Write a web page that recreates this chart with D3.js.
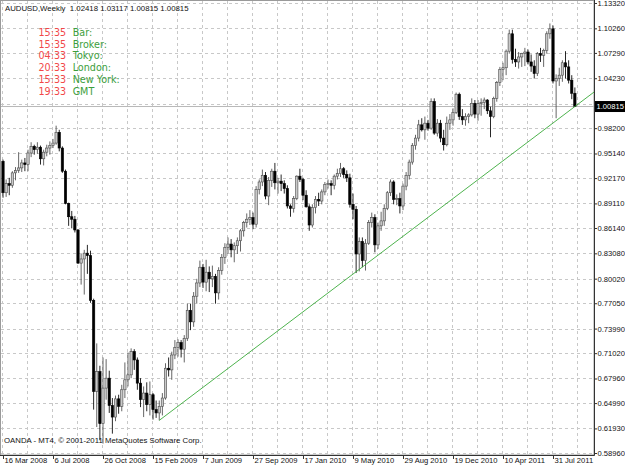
<!DOCTYPE html>
<html><head><meta charset="utf-8">
<script src="https://cdn.jsdelivr.net/npm/d3@7"></script>
<style>body{margin:0;background:#fff}svg{display:block}</style>
</head><body>
<svg id="c" width="625" height="469"></svg>
<script>
const symbolTitle = "AUDUSD,Weekly  1.02418 1.03117 1.00815 1.00815";
const firstWeek = "2008-03-16";

const opens = [
.9420,.9040,.9150,.9130,.9280,.9310,.9340,.9400,.9380,.9520,
.9600,.9560,.9590,.9450,.9530,.9580,.9610,.9640,.9770,.9580,
.9300,.8910,.8750,.8720,.8590,.8190,.8240,.8310,.8280,.7740,
.6640,.6880,.6250,.6680,.6800,.6470,.6330,.6550,.6460,.6660,
.6780,.6840,.7120,.7020,.6740,.6540,.6620,.6480,.6600,.6420,
.6380,.6460,.6560,.6920,.6900,.7080,.7170,.7230,.7150,.7280,
.7620,.7480,.7790,.7950,.8140,.7960,.8080,.8000,.8030,.7830,
.8100,.8260,.8380,.8420,.8350,.8400,.8460,.8580,.8680,.8720,
.8740,.8660,.9080,.9170,.9250,.9000,.9190,.9300,.9160,.9180,
.9150,.9090,.8880,.8850,.8970,.9240,.9200,.9010,.8870,.8650,
.8860,.8960,.8940,.9050,.9140,.9150,.9130,.9240,.9270,.9330,
.9260,.9220,.8900,.8840,.8300,.8450,.8220,.8430,.8680,.8740,
.8410,.8640,.8700,.8850,.9040,.9170,.8960,.8970,.8880,.9120,
.9250,.9410,.9610,.9700,.9860,.9800,.9880,.9820,1.0140,.9760,
.9880,.9700,.9620,.9880,.9920,1.0010,1.0230,.9960,.9920,.9960,
.9980,1.0120,.9990,1.0120,1.0130,1.0160,1.0030,.9960,1.0180,1.0370,
1.0530,1.0550,1.0750,1.0960,1.0650,1.0620,1.0680,1.0720,1.0740,1.0620,
1.0570,1.0480,1.0720,1.0700,1.0760,1.0960,1.1020,1.0390,1.0420,1.0460,
1.0610,1.0560,1.0400,1.02418];

const highs = [
.9440,.9200,.9220,.9300,.9350,.9530,.9440,.9460,.9560,.9650,
.9620,.9650,.9610,.9560,.9620,.9660,.9690,.9850,.9800,.9600,
.9320,.8920,.8820,.8760,.8600,.8300,.8350,.8410,.8340,.7760,
.7220,.6950,.7050,.7030,.6890,.6560,.6590,.6600,.6720,.6990,
.7110,.7160,.7150,.7050,.6800,.6700,.6750,.6760,.6620,.6530,
.6530,.6620,.6980,.7050,.7120,.7260,.7270,.7260,.7320,.7700,
.7700,.7840,.8000,.8220,.8180,.8230,.8150,.8160,.8060,.8140,
.8300,.8430,.8500,.8480,.8440,.8500,.8600,.8700,.8790,.8830,
.8800,.9120,.9200,.9320,.9290,.9230,.9330,.9400,.9220,.9260,
.9190,.9130,.8900,.9000,.9250,.9330,.9220,.9070,.8900,.8900,
.9000,.9040,.9080,.9170,.9200,.9190,.9260,.9330,.9400,.9350,
.9310,.9270,.9030,.8880,.8500,.8500,.8480,.8710,.8800,.8780,
.8680,.8810,.8900,.9060,.9200,.9190,.9020,.9040,.9150,.9290,
.9440,.9640,.9740,.9920,.9940,.9960,.9920,1.0180,1.0180,.9930,
.9920,.9800,.9960,.9990,1.0060,1.0250,1.0250,1.0050,1.0000,1.0000,
1.0180,1.0160,1.0160,1.0180,1.0190,1.0170,1.0080,1.0200,1.0390,1.0560,
1.0610,1.0770,1.1010,1.1010,1.0780,1.0740,1.0730,1.0790,1.0770,1.0710,
1.0640,1.0740,1.0790,1.0780,1.0990,1.1085,1.1060,1.0470,1.0550,1.0640,
1.0750,1.0640,1.0460,1.03117];

const lows = [
.8980,.8990,.9010,.9100,.9190,.9280,.9290,.9300,.9300,.9470,
.9500,.9510,.9380,.9370,.9480,.9500,.9580,.9620,.9540,.9280,
.8900,.8640,.8610,.8560,.8180,.7930,.7810,.8060,.7710,.6420,
.6210,.6050,.6010,.6540,.6380,.6130,.6280,.6370,.6400,.6560,
.6700,.6800,.6900,.6660,.6450,.6330,.6400,.6350,.6300,.6320,
.6290,.6350,.6540,.6820,.6780,.7030,.7060,.7050,.6990,.7250,
.7380,.7420,.7700,.7900,.7890,.7850,.7840,.7900,.7700,.7750,
.8050,.8180,.8300,.8260,.8200,.8300,.8330,.8510,.8620,.8650,
.8600,.8620,.9020,.9120,.8960,.8890,.9110,.9080,.9030,.9060,
.9030,.8850,.8750,.8800,.8950,.9170,.8950,.8860,.8580,.8620,
.8790,.8880,.8900,.9010,.9090,.9010,.9080,.9200,.9230,.9220,
.9170,.8860,.8720,.8070,.8090,.8140,.8100,.8410,.8620,.8320,
.8360,.8580,.8640,.8830,.9000,.8900,.8890,.8790,.8830,.9070,
.9200,.9380,.9560,.9660,.9780,.9680,.9790,.9800,.9740,.9720,
.9650,.9550,.9600,.9800,.9850,.9990,.9920,.9860,.9850,.9880,
.9960,.9940,.9910,.9970,1.0050,.9990,.9710,.9940,1.0140,1.0330,
1.0400,1.0460,1.0720,1.0600,1.0560,1.0540,1.0560,1.0570,1.0590,1.0500,
1.0420,1.0450,1.0620,1.0560,1.0720,1.0900,1.0360,.9940,1.0330,1.0380,
1.0420,1.0360,1.0170,1.00815];

const closes = [
.9040,.9150,.9130,.9280,.9310,.9340,.9400,.9380,.9520,.9600,
.9560,.9590,.9450,.9530,.9580,.9610,.9640,.9770,.9580,.9300,
.8910,.8750,.8720,.8590,.8190,.8240,.8310,.8280,.7740,.6640,
.6880,.6250,.6680,.6800,.6470,.6330,.6550,.6460,.6660,.6780,
.6840,.7120,.7020,.6740,.6540,.6620,.6480,.6600,.6420,.6380,
.6460,.6560,.6920,.6900,.7080,.7170,.7230,.7150,.7280,.7620,
.7480,.7790,.7950,.8140,.7960,.8080,.8000,.8030,.7830,.8100,
.8260,.8380,.8420,.8350,.8400,.8460,.8580,.8680,.8720,.8740,
.8660,.9080,.9170,.9250,.9000,.9190,.9300,.9160,.9180,.9150,
.9090,.8880,.8850,.8970,.9240,.9200,.9010,.8870,.8650,.8860,
.8960,.8940,.9050,.9140,.9150,.9130,.9240,.9270,.9330,.9260,
.9220,.8900,.8840,.8300,.8450,.8220,.8430,.8680,.8740,.8410,
.8640,.8700,.8850,.9040,.9170,.8960,.8970,.8880,.9120,.9250,
.9410,.9610,.9700,.9860,.9800,.9880,.9820,1.0140,.9760,.9880,
.9700,.9620,.9880,.9920,1.0010,1.0230,.9960,.9920,.9960,.9980,
1.0120,.9990,1.0120,1.0130,1.0160,1.0030,.9960,1.0180,1.0370,1.0530,
1.0550,1.0750,1.0960,1.0650,1.0620,1.0680,1.0720,1.0740,1.0620,1.0570,
1.0480,1.0720,1.0700,1.0760,1.0960,1.1020,1.0390,1.0420,1.0460,1.0610,
1.0560,1.0400,1.02418,1.00815];

const priceTicks = [1.13320,1.10260,1.07290,1.04230,1.01170,0.98200,0.95140,0.92170,0.89110,
  0.86140,0.83080,0.80020,0.77050,0.73990,0.71020,0.67960,0.64990,0.61930,0.58960];
const dateTicks = ["2008-03-16","2008-07-06","2008-10-26","2009-02-15","2009-06-07","2009-09-27",
  "2010-01-17","2010-05-09","2010-08-29","2010-12-19","2011-04-10","2011-07-31"];
const clockTimes = ["15:35","15:35","04:33","20:33","15:33","19:33"];
const clockNames = ["Bar:","Broker:","Tokyo:","London:","New York:","GMT"];
const trendWeeks = [50, 183];
const trendPrices = [0.6290, 1.00815];
const currentPrice = 1.00815;
const copyright = "OANDA - MT4, \u00A9 2001-2011 MetaQuotes Software Corp.";

const plotR = 594, plotB = 455;
const svg = d3.select("#c");
const parse = d3.utcParse("%Y-%m-%d");
const t0 = parse(firstWeek);
const n = opens.length;
const dates = d3.range(n).map(i => d3.utcWeek.offset(t0, i));
const x = d3.scaleUtc().domain([t0, dates[n-1]]).range([3, 3 + (n-1)*3.125]);
const y = d3.scaleLinear().domain(d3.extent(priceTicks)).range([453, 3]);
const axisFont = "'Liberation Sans', Arial, sans-serif";

// frame
svg.append("rect").attr("x",0.5).attr("y",0.5).attr("width",plotR-0.5).attr("height",plotB-0.5)
  .attr("fill","none").attr("stroke","#9a9a9a").attr("stroke-width",1);

// grid
const gridG = svg.append("g").attr("stroke","#c8c8c8").attr("stroke-width",1).attr("stroke-dasharray","3,3");
const gridWeeks = d3.range(0, n + 2, 8).map(i => d3.utcWeek.offset(t0, i)).filter(d => x(d) < plotR);
gridG.selectAll("line.v").data(gridWeeks).join("line")
  .attr("x1", d => Math.round(x(d)) - 0.5).attr("x2", d => Math.round(x(d)) - 0.5)
  .attr("y1", 1).attr("y2", plotB);
gridG.selectAll("line.h").data(priceTicks).join("line")
  .attr("x1", 1).attr("x2", plotR)
  .attr("y1", d => Math.round(y(d)) + 0.5).attr("y2", d => Math.round(y(d)) + 0.5);

// current price line
svg.append("line").attr("x1",1).attr("x2",plotR)
  .attr("y1", y(currentPrice)).attr("y2", y(currentPrice))
  .attr("stroke","#b8b8b8").attr("stroke-width",1);

// candles
const bars = d3.range(n).map(i => ({d: dates[i], o: opens[i], h: highs[i], l: lows[i], c: closes[i]}));
const bw = 2.34;
const cg = svg.append("g");
cg.selectAll("line.wick").data(bars).join("line")
  .attr("x1", b => x(b.d)).attr("x2", b => x(b.d))
  .attr("y1", b => y(b.h)).attr("y2", b => y(b.l))
  .attr("stroke", b => b.c >= b.o ? "#4a4a4a" : "#000")
  .attr("stroke-width", 0.85);
cg.selectAll("rect.body").data(bars).join("rect")
  .attr("x", b => x(b.d) - bw/2)
  .attr("y", b => y(Math.max(b.o, b.c)))
  .attr("width", bw)
  .attr("height", b => Math.max(0.8, Math.abs(y(b.o) - y(b.c))))
  .attr("fill", b => b.c >= b.o ? "#c9c9c9" : "#000")
  .attr("stroke", b => b.c >= b.o ? "#4a4a4a" : "#000")
  .attr("stroke-width", 0.6);

// trendline, extended to the right edge
const tx1 = x(d3.utcWeek.offset(t0, trendWeeks[0])), ty1 = y(trendPrices[0]);
const tx2 = x(d3.utcWeek.offset(t0, trendWeeks[1])), ty2 = y(trendPrices[1]);
const slope = (ty2 - ty1) / (tx2 - tx1);
svg.append("line").attr("x1", tx1).attr("y1", ty1)
  .attr("x2", plotR).attr("y2", ty1 + slope * (plotR - tx1))
  .attr("stroke", "#3aaa3a").attr("stroke-width", 0.9);

// axes
const cy = y(currentPrice);
const yAxis = d3.axisRight(y).tickValues(priceTicks).tickSize(3).tickPadding(0.5)
  .tickFormat(d3.format(".5f"));
const ya = svg.append("g").attr("transform", `translate(${plotR},0)`).call(yAxis);
ya.select(".domain").remove();
ya.selectAll("line").attr("stroke","#333");
ya.selectAll("text").attr("font-family", axisFont).attr("font-size", 7.6).attr("fill","#111");
// the current-price box covers the tick label that sits under it
ya.selectAll(".tick").filter(d => Math.abs(y(d) - cy) < 8).select("text").remove();

const xAxis = d3.axisBottom(x).tickValues(dateTicks.map(parse)).tickSize(4)
  .tickFormat(d3.utcFormat("%-d %b %Y"));
const xa = svg.append("g").attr("transform", `translate(0,${plotB})`).call(xAxis);
xa.select(".domain").remove();
xa.selectAll("line").attr("stroke","#333");
xa.selectAll("text").attr("font-family", axisFont).attr("font-size", 7.6).attr("fill","#111")
  .attr("text-anchor","start").attr("x", 1).attr("dy", "0.55em").attr("y", 4);

svg.append("line").attr("x1", plotR + 0.5).attr("x2", plotR + 0.5).attr("y1", 0).attr("y2", plotB + 0.5)
  .attr("stroke","#333").attr("stroke-width",1);
svg.append("line").attr("x1", 0).attr("x2", plotR + 0.5).attr("y1", plotB + 0.5).attr("y2", plotB + 0.5)
  .attr("stroke","#333").attr("stroke-width",1);

// current price label
svg.append("rect").attr("x", plotR + 1).attr("y", cy - 5.5).attr("width", 625 - plotR - 1).attr("height", 11)
  .attr("fill", "#000");
svg.append("text").attr("x", plotR + 2.5).attr("y", cy).attr("dy", "0.35em")
  .attr("font-family", axisFont).attr("font-size", 7.6).attr("fill", "#fff")
  .text(d3.format(".5f")(currentPrice));

// title
svg.append("text").attr("x", 5).attr("y", 10.5).attr("font-family", axisFont).attr("font-size", 7.8)
  .attr("fill", "#111").style("white-space","pre").text(symbolTitle);

// clocks
const clockFont = "'DejaVu Sans', Verdana, sans-serif";
const cl = svg.append("g").attr("font-family", clockFont).attr("font-size", 9.6);
cl.selectAll("text.t").data(clockTimes).join("text")
  .attr("x", 38.5).attr("y", (d, i) => 36 + i * 11.7).attr("fill", "#f24848").text(d => d);
cl.selectAll("text.n").data(clockNames).join("text")
  .attr("x", 72.7).attr("y", (d, i) => 36 + i * 11.7).attr("fill", "#3c9e3c").text(d => d);

// copyright
svg.append("text").attr("x", 4).attr("y", 442.5).attr("font-family", axisFont).attr("font-size", 7.8)
  .attr("fill", "#111").text(copyright);
</script>
</body></html>
